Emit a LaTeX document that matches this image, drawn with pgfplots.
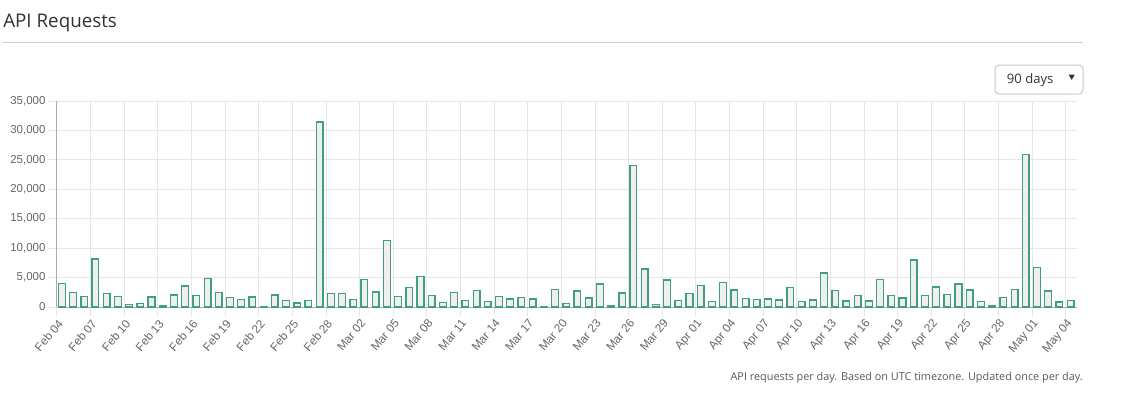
\documentclass[border=0pt]{standalone}
\usepackage{pgfplots}
\pgfplotsset{compat=1.18}
\usepackage{pgfplotstable}
\usepackage{fontspec}
\setmainfont{Open Sans}
\newfontfamily\tickfont{Liberation Sans}
\definecolor{barline}{RGB}{64,160,122}
\definecolor{barfill}{RGB}{239,239,239}
\definecolor{gridc}{RGB}{230,230,230}
\definecolor{axisc}{RGB}{170,170,170}
\definecolor{ticklab}{RGB}{102,102,102}
\definecolor{titlec}{RGB}{51,51,51}
\pgfplotstableread{
x y
0 4000
1 2490
2 1760
3 8150
4 2260
5 1810
6 400
7 570
8 1700
9 280
10 2040
11 3570
12 1980
13 4810
14 2490
15 1590
16 1300
17 1700
18 110
19 2040
20 1130
21 680
22 1130
23 31430
24 2260
25 2320
26 1300
27 4700
28 2550
29 11330
30 1760
31 3340
32 5210
33 1930
34 790
35 2490
36 1130
37 2830
38 960
39 1810
40 1360
41 1590
42 1360
43 50
44 2940
45 620
46 2720
47 1530
48 3910
49 280
50 2380
51 24000
52 6460
53 450
54 4590
55 1130
56 2320
57 3680
58 910
59 4130
60 2890
61 1420
62 1300
63 1360
64 1190
65 3280
66 960
67 1190
68 5780
69 2770
70 1020
71 1980
72 1020
73 4700
74 1980
75 1530
76 7980
77 1980
78 3400
79 2150
80 3910
81 2890
82 960
83 280
84 1640
85 3000
86 25930
87 6740
88 2720
89 850
90 1080
}\requests
\begin{document}
\begin{tikzpicture}
\useasboundingbox[fill=white] (0,0) rectangle (852pt,-294.75pt);
% title and rule
\node[anchor=base west, inner sep=0pt, text=titlec, font=\fontsize{14.1pt}{16pt}\selectfont] at (2.25pt,-20.5pt) {API Requests};
\draw[color=black!20, line width=0.75pt] (2.25pt,-31.5pt) -- (812.25pt,-31.5pt);
% dropdown
\draw[color=black!22, line width=0.75pt, rounded corners=3pt, fill=white] (746.25pt,-48.75pt) rectangle (812.25pt,-70.5pt);
\node[anchor=west, inner sep=0pt, text=titlec, font=\fontsize{9.8pt}{11pt}\selectfont] at (755pt,-60pt) {90 days};
\fill[titlec] (801.5pt,-56pt) -- (806pt,-56pt) -- (803.75pt,-60pt) -- cycle;
% footer
\node[anchor=base east, inner sep=0pt, text=black!65, font=\fontsize{8.15pt}{9pt}\selectfont] at (812.25pt,-285.5pt) {API requests per day. Based on UTC timezone. Updated once per day.};
\begin{axis}[
  at={(42.75pt,-230.25pt)}, anchor=south west,
  scale only axis, width=765pt, height=154.5pt,
  xmin=0, xmax=91, ymin=0, ymax=35000,
  axis x line*=bottom, axis y line*=left,
  axis line style={axisc, line width=0.75pt},
  xtick={0,3,...,90},
  xticklabels={Feb 04,Feb 07,Feb 10,Feb 13,Feb 16,Feb 19,Feb 22,Feb 25,Feb 28,Mar 02,Mar 05,Mar 08,Mar 11,Mar 14,Mar 17,Mar 20,Mar 23,Mar 26,Mar 29,Apr 01,Apr 04,Apr 07,Apr 10,Apr 13,Apr 16,Apr 19,Apr 22,Apr 25,Apr 28,May 01,May 04},
  ytick={0,5000,...,35000},
  grid=major, major grid style={gridc, line width=0.75pt},
  tick align=outside, major tick length=7pt,
  tick style={gridc, line width=0.75pt},
  x tick label style={rotate=50, anchor=north east, inner sep=1pt, font=\tickfont\fontsize{8.8pt}{10pt}\selectfont, text=ticklab},
  y tick label style={font=\tickfont\fontsize{8.6pt}{10pt}\selectfont, text=ticklab, inner sep=1.5pt},
  yticklabel style={/pgf/number format/.cd, fixed, 1000 sep={,}, assume math mode=true},
  scaled y ticks=false,
  clip=false,
]
\addplot[ybar, bar width=0.6, bar shift=0pt, draw=barline, fill=barfill, line width=1pt]
  table[x expr=\thisrow{x}+0.43, y=y] {\requests};
\end{axis}
\end{tikzpicture}
\end{document}
